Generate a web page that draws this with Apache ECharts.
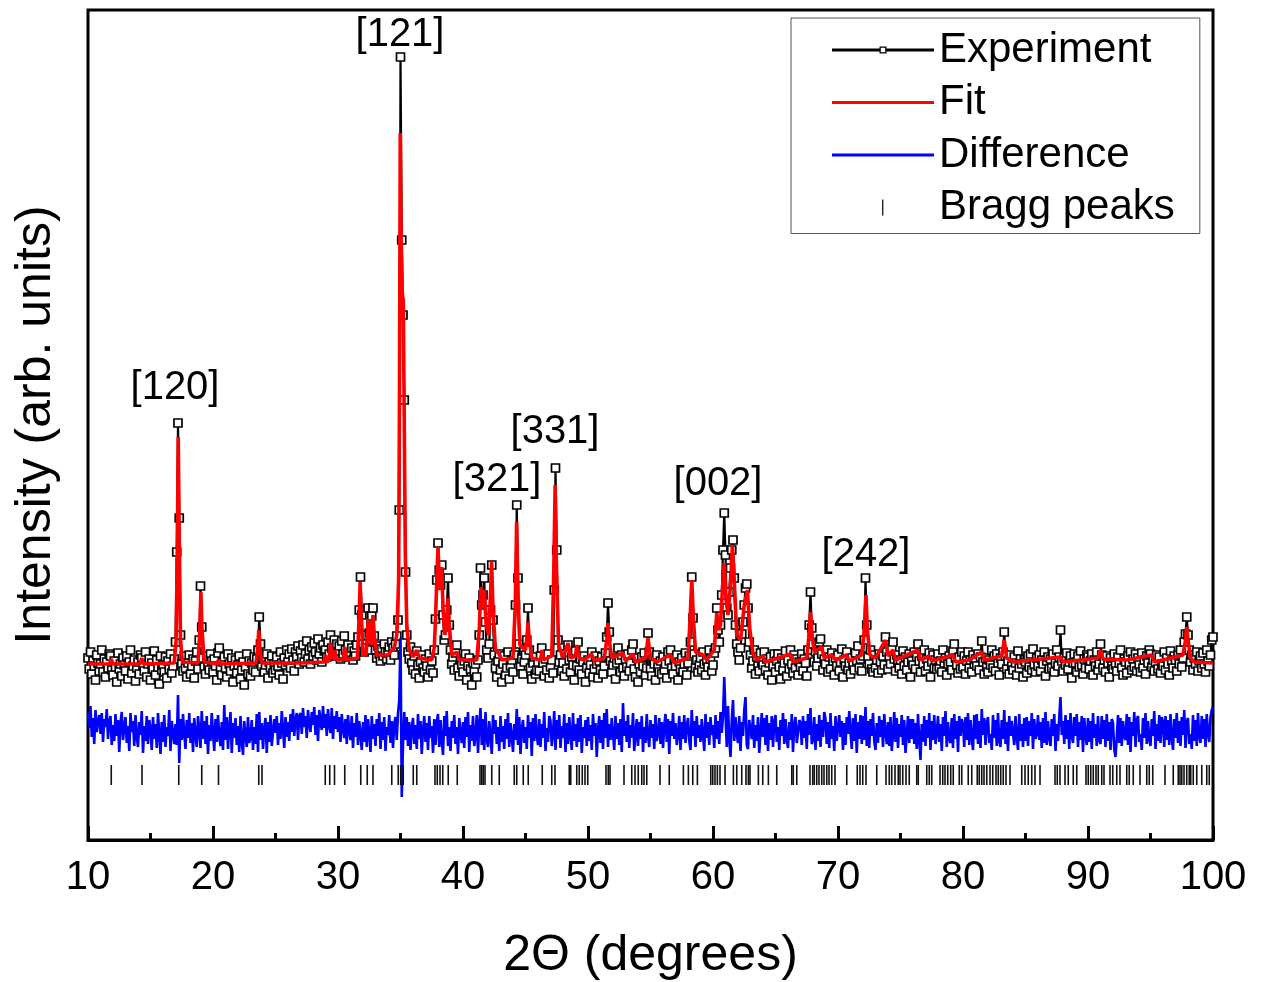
<!DOCTYPE html>
<html><head><meta charset="utf-8">
<script src="https://cdn.jsdelivr.net/npm/echarts/dist/echarts.min.js"></script>
<style>html,body{margin:0;padding:0;background:#fff}#c{width:1264px;height:982px}</style>
</head><body><div id="c"></div>
<script>
// 2-theta grid of the measured pattern
const xStart = 10, xStep = 0.1;

// Experiment intensities (arb. units), one row per degree (x.0 ... x.9)
const experiment = [
182,171,188,166,179,174,160,185,177,169,
176,190,168,181,163,178,172,186,184,170,
165,179,173,158,187,171,176,164,182,175,
169,184,161,178,190,167,174,180,159,172,
178,166,185,182,174,169,188,163,176,181,
160,177,171,189,165,180,173,156,184,170,
175,168,183,162,179,171,186,167,174,181,
198,288,417,322,205,176,169,184,172,163,
177,185,166,174,181,162,179,188,171,200,
254,213,182,173,166,184,175,170,186,179,
168,181,174,160,187,192,171,165,178,183,
172,163,186,176,169,182,158,174,180,167,
175,184,161,170,178,155,173,186,166,179,
164,177,170,183,168,181,190,223,196,174,
181,168,175,186,162,178,172,184,167,176,
170,183,174,165,188,177,161,182,175,190,
178,186,172,191,180,169,188,183,194,176,
189,182,195,178,186,199,181,190,176,193,
184,197,188,180,201,186,192,178,195,189,
190,183,198,186,205,192,187,200,184,196,
188,194,181,199,186,204,190,183,195,187,
185,192,180,189,184,195,203,230,263,225,
196,188,192,205,232,207,190,224,232,204,
190,182,194,186,179,191,184,196,188,181,
187,193,180,198,192,185,196,204,220,330,
783,600,525,440,268,205,188,181,193,177,
170,184,166,189,175,162,178,185,172,168,
181,174,163,186,170,179,167,190,221,260,
297,270,255,275,225,200,205,230,262,215,
190,176,183,170,187,195,172,164,181,175,
168,179,186,160,174,182,171,155,177,169,
176,163,180,205,272,235,245,262,218,190,
182,196,230,275,220,185,172,163,179,186,
170,158,176,184,165,172,188,161,174,180,
168,185,235,335,262,196,174,181,166,178,
185,200,232,190,172,161,177,183,166,170,
178,169,184,192,177,164,181,170,186,162,
173,180,167,250,372,290,200,178,185,169,
177,164,186,171,195,180,168,183,175,160,
189,174,198,170,181,166,178,184,158,172,
180,167,175,188,163,171,184,176,162,179,
170,183,166,174,187,203,237,208,179,168,
175,182,161,177,192,180,168,185,172,164,
180,173,186,169,177,190,196,171,163,182,
158,176,168,183,174,187,165,172,207,188,
171,164,181,176,160,185,173,168,179,166,
183,170,176,162,188,179,190,172,166,181,
174,185,160,178,171,182,168,176,187,165,
177,184,198,263,222,186,172,180,168,175,
182,170,188,176,165,179,173,190,181,169,
175,187,192,232,210,198,215,245,290,327,
285,232,225,248,272,290,300,262,215,196,
188,180,192,206,218,235,252,256,232,198,
185,172,179,190,166,183,174,169,187,178,
175,188,170,181,165,177,183,160,174,186,
168,179,186,173,161,182,170,177,189,164,
180,171,190,176,167,185,172,181,165,178,
173,186,169,181,177,164,190,215,248,212,
196,178,188,174,182,198,201,186,170,181,
176,190,168,183,171,187,179,165,182,174,
185,169,178,191,163,180,174,188,170,177,
166,182,175,170,187,179,194,172,181,169,
184,200,262,215,183,176,190,171,168,185,
172,180,167,186,178,170,184,175,203,188,
171,183,176,192,198,181,169,185,177,172,
180,166,189,174,183,170,178,186,163,179,
175,188,171,183,196,179,168,184,176,190,
169,181,174,187,163,178,185,172,180,171,
186,173,179,168,190,177,182,165,176,184,
178,170,189,196,182,175,167,183,171,188,
173,184,166,179,188,172,180,168,185,176,
181,174,186,170,183,199,178,166,182,173,
168,180,175,190,172,184,169,186,177,165,
182,176,188,208,184,171,179,166,185,174,
170,183,177,165,189,172,181,176,163,180,
178,167,184,173,186,170,191,175,168,182,
174,185,169,180,176,188,164,179,183,171,
181,172,186,168,177,190,174,183,210,179,
169,182,175,187,171,178,184,162,177,186,
177,168,184,173,189,175,166,181,172,185,
183,171,179,186,165,180,174,188,170,176,
196,185,172,180,168,184,177,163,182,174,
171,186,175,169,183,177,190,172,165,181,
178,167,184,176,188,170,181,173,186,169,
182,175,168,187,172,180,166,184,177,190,
186,173,180,169,178,185,171,183,167,176,
174,188,170,182,176,165,189,179,172,184,
180,169,185,176,190,173,182,198,206,223,
205,190,178,185,170,182,176,188,169,179,
184,172,187,176,168,190,179,174,185,200,
203
];

// Difference curve (offset, arb. units), same grid
const difference = [
128,112,134,103,122,96,130,108,119,125,
106,127,98,121,113,131,101,118,124,95,
115,99,126,104,120,88,117,128,100,112,
123,97,114,89,127,108,119,94,125,103,
93,118,105,129,87,114,99,124,96,120,
111,90,123,101,116,92,127,106,86,118,
98,125,93,113,104,130,89,119,107,96,
116,95,145,77,121,100,126,106,91,120,
102,127,97,117,88,122,105,93,124,110,
92,129,101,119,96,124,86,115,99,127,
107,89,121,98,125,104,94,118,90,135,
100,123,91,113,128,87,117,102,122,95,
114,88,124,99,85,119,105,93,123,97,
103,120,90,113,96,126,88,128,100,117,
91,112,122,87,118,98,125,94,108,121,
107,124,95,117,101,129,111,92,123,103,
118,99,126,108,131,104,121,127,100,124,
127,106,132,113,124,102,130,116,108,128,
115,133,105,125,99,130,119,110,134,112,
126,104,131,115,107,132,101,124,111,129,
108,123,98,126,112,102,121,96,125,109,
100,124,92,117,103,127,95,119,106,90,
118,98,125,93,121,107,88,124,101,116,
94,121,104,127,91,118,100,123,89,113,
105,125,97,119,92,116,123,100,127,140,
202,43,95,128,100,123,94,118,90,112,
122,96,115,91,126,101,119,86,110,124,
98,117,90,124,102,114,87,121,95,118,
126,93,120,99,85,124,104,129,94,113,
89,119,102,125,96,113,86,122,107,97,
118,92,123,103,128,88,115,99,124,94,
104,125,87,116,132,95,121,90,128,101,
93,119,103,86,125,106,120,96,113,89,
124,98,114,91,121,101,127,93,117,104,
88,116,100,131,95,123,86,111,120,97,
113,91,125,102,118,84,122,99,126,105,
95,121,93,116,102,128,89,112,98,124,
119,94,106,129,90,120,101,125,92,114,
102,126,88,117,96,123,106,90,127,99,
116,93,122,98,125,87,113,102,120,94,
123,99,115,90,126,104,117,83,110,124,
97,120,91,127,102,131,93,116,100,122,
106,90,124,101,117,95,121,88,137,104,
119,98,125,92,115,102,127,89,106,121,
94,118,101,124,88,113,97,126,104,93,
120,102,116,91,125,99,107,122,96,118,
92,114,126,98,121,86,119,104,127,101,
117,95,106,124,90,118,101,125,97,113,
122,99,90,130,104,119,93,124,102,115,
98,121,106,89,126,102,118,95,123,105,
115,92,125,101,119,96,128,107,124,163,
126,93,134,101,83,120,140,99,123,106,
97,124,89,118,104,130,143,95,91,120,
119,101,125,92,115,99,123,87,108,127,
103,122,95,125,89,117,100,124,93,118,
125,98,113,90,120,104,127,96,121,101,
92,118,100,126,88,115,123,97,107,120,
117,95,124,102,119,91,126,105,132,96,
100,123,90,116,99,125,93,120,103,128,
121,96,118,92,127,101,114,89,124,99,
98,125,103,119,90,117,95,123,106,129,
108,91,122,99,126,87,118,101,125,96,
124,100,133,94,119,92,121,104,127,99,
90,117,97,124,103,120,93,126,108,96,
118,94,123,89,106,128,98,122,92,116,
103,125,95,120,87,105,124,97,121,101,
121,96,117,91,126,101,80,116,98,124,
94,120,102,127,90,119,100,125,96,107,
124,98,116,89,123,104,129,93,118,101,
97,122,92,126,101,119,88,124,104,121,
116,93,123,100,127,95,120,102,90,125,
101,126,96,119,92,131,105,122,95,117,
123,97,106,90,125,102,120,94,127,99,
93,120,101,130,96,118,89,124,104,119,
121,95,124,103,90,126,99,116,93,122,
99,123,94,119,104,127,91,121,101,106,
125,100,118,92,122,97,128,95,119,103,
94,121,104,126,89,116,99,123,143,105,
119,96,125,101,120,91,127,104,97,123,
104,126,93,118,100,124,88,122,106,95,
122,98,119,91,127,102,116,94,124,100,
96,124,101,120,93,126,99,118,90,121,
117,91,83,102,125,97,122,94,119,104,
100,126,95,123,88,118,104,128,93,120,
124,98,106,90,122,102,127,96,119,101,
94,121,104,129,91,116,99,125,97,123,
118,93,124,100,120,95,126,103,90,121,
102,127,97,119,94,123,105,130,92,118,
122,96,106,91,125,99,120,94,127,103,
97,124,101,121,93,126,106,98,123,130,
133
];

// Fitted profile: [2theta, intensity]
const fit = [
[10,176],[11.7,176],[11.86,181],[12.0,176],[14.15,176],[14.3,182],[14.45,176],
[16.9,177],[17.05,200],[17.15,300],[17.22,403],[17.3,300],[17.4,200],[17.55,178],
[18.8,177],[18.95,210],[19.03,248],[19.12,210],[19.3,178],
[20.3,176],[20.44,180],[20.6,176],
[23.45,177],[23.58,192],[23.66,210],[23.75,192],[23.9,177],
[27.0,177],[28.9,178],[29.0,185],[29.1,178],[29.3,180],[29.4,197],[29.5,182],[29.7,184],[29.75,190],[29.85,180],
[30.4,180],[30.54,193],[30.7,180],
[31.55,182],[31.68,220],[31.77,258],[31.87,220],[32.0,185],[32.25,185],[32.36,210],[32.43,221],[32.52,205],
[32.65,195],[32.75,215],[32.8,225],[32.9,205],[33.1,185],
[34.0,185],[34.3,190],[34.5,192],[34.7,205],[34.85,260],[34.92,450],[34.98,707],[35.05,600],[35.15,545],
[35.22,540],[35.3,420],[35.38,290],[35.5,215],[35.7,190],[36.0,183],[36.3,190],[36.5,182],[37.5,180],
[37.7,192],[37.8,220],[37.9,260],[38.0,293],[38.1,262],[38.2,250],[38.3,273],[38.4,232],[38.55,205],[38.7,220],
[38.8,242],[38.9,215],[39.1,185],[39.5,188],[39.7,180],
[41.1,180],[41.3,210],[41.43,253],[41.55,232],[41.7,250],[41.85,215],[42.05,205],[42.2,245],[42.29,278],
[42.4,230],[42.6,190],[42.9,186],[43.1,180],
[44.0,182],[44.18,235],[44.29,318],[44.4,245],[44.55,195],[45.0,190],[45.13,205],[45.2,218],[45.3,200],[45.5,182],
[46.2,180],[46.32,190],[46.45,180],
[47.1,184],[47.25,260],[47.37,355],[47.48,270],[47.65,195],[48.0,182],[48.4,197],[48.6,182],[49.0,184],[49.1,195],
[49.3,182],[49.7,180],[50.3,186],[50.5,179],
[51.3,182],[51.5,200],[51.6,217],[51.7,200],[51.9,182],[52.8,187],[53.0,179],[53.6,186],[53.8,178],[54.6,182],
[54.8,202],[55.0,182],[55.5,178],[56.6,185],[56.9,177],
[58.0,182],[58.18,225],[58.3,260],[58.42,225],[58.6,188],[59.2,185],[59.5,180],[60.1,190],[60.3,227],[60.45,210],
[60.6,215],[60.75,250],[60.9,277],[61.05,240],[61.2,225],[61.4,255],[61.55,295],[61.7,260],[61.9,205],[62.2,200],
[62.5,235],[62.75,250],[62.95,210],[63.2,186],[63.5,180],[64.0,184],[64.2,178],[66.2,186],[66.4,178],
[67.5,182],[67.68,205],[67.8,228],[67.92,205],[68.1,188],[68.7,193],[68.9,182],[69.5,185],[69.8,180],[70.7,185],[70.9,179],
[71.9,185],[72.1,210],[72.24,245],[72.35,210],[72.55,185],[73.0,182],[73.8,200],[74.0,184],[74.4,190],[74.6,180],
[76.4,190],[76.6,180],[77.3,184],[77.5,179],[79.2,185],[79.4,178],[80.5,180],[81.5,188],[81.7,180],[83.1,184],
[83.3,200],[83.5,182],[84.0,178],[85.5,180],[87.8,183],[88.0,178],[90.8,182],[91.0,190],[91.2,181],[93.1,180],
[95.1,185],[95.3,178],[97.6,185],[97.8,200],[97.9,213],[98.0,200],[98.2,182],[98.5,178],[100,177]
];

// Bragg reflection positions (2theta)
const braggPeaks = [
11.86,14.32,17.26,19.10,20.44,23.66,23.92,28.98,29.34,29.72,30.54,31.82,32.34,32.80,34.30,34.82,35.02,35.22,
36.02,36.30,37.76,37.94,38.16,38.38,38.82,39.54,41.36,41.50,41.62,41.76,42.30,42.90,44.10,44.30,44.82,45.22,
46.34,47.10,47.36,48.50,48.62,49.10,49.30,49.54,49.76,49.98,51.44,51.62,51.76,52.88,53.50,53.76,54.02,54.30,
54.48,54.70,55.76,56.50,57.63,58.03,58.38,58.75,59.82,59.98,60.16,60.35,60.56,60.96,61.63,61.90,62.30,62.64,
62.83,62.96,63.63,63.98,64.43,65.10,66.30,66.42,66.70,67.76,67.98,68.10,68.30,68.48,68.70,68.88,69.10,69.28,
69.50,69.76,70.70,71.54,71.76,71.98,72.24,73.10,73.84,74.10,74.30,74.56,74.82,74.96,75.18,75.44,75.70,76.30,
76.42,77.10,77.30,77.50,78.16,78.38,78.56,78.78,79.02,79.22,79.70,79.90,80.42,80.70,81.14,81.30,81.50,81.68,
81.90,82.16,82.38,82.64,82.82,83.02,83.22,83.44,83.76,84.70,84.96,85.22,85.50,85.76,86.16,87.36,87.54,87.76,
88.16,88.42,88.82,89.10,89.84,90.02,90.22,90.42,90.64,90.82,91.10,91.28,91.76,91.98,92.30,92.56,93.10,93.30,
93.62,94.16,94.70,94.90,95.18,96.16,96.82,97.22,97.36,97.50,97.68,97.90,98.10,98.22,98.42,98.70,99.10,99.50,99.70
];
const braggLevel = 65;

// Reflection labels: [text, 2theta, height]
const peakLabels = [
['[120]', 16.96, 452], ['[121]', 34.96, 805], ['[321]', 42.72, 360],
['[331]', 47.36, 408], ['[002]', 60.40, 356], ['[242]', 72.24, 285]
];

const xMin = 10, xMax = 100, xInterval = 10;
const yMin = 0, yMax = 830;

const FONT = '"Liberation Sans", Arial, sans-serif';
const gridX = i => Math.round((xStart + i * xStep) * 100) / 100;
const expData = experiment.map((v, i) => [gridX(i), v]);
const diffData = difference.map((v, i) => [gridX(i), v]);

// legend icons (102 x 18 boxes; the tiny corner specks only fix the box size)
const boxA = 'M0,0h0.01v0.01h-0.01z ', boxB = ' M101.99,17.99h0.01v0.01h-0.01z';
const expIcon = 'path://' + boxA + 'M0,7.6h47.5v2.8h-47.5z M47.5,5.5h7v7h-7z M48.8,6.8v4.4h4.4v-4.4z M54.5,7.6h47.5v2.8h-47.5z' + boxB;
const lineIcon = 'path://' + boxA + 'M0,7.4h102v3.2h-102z' + boxB;
const braggIcon = 'path://' + boxA + 'M50,1h1.4v16h-1.4z' + boxB;

const chart = echarts.init(document.getElementById('c'), null, {renderer: 'canvas'});
chart.setOption({
  animation: false,
  backgroundColor: '#fff',
  textStyle: {fontFamily: FONT},
  grid: {left: 88, right: 51, top: 10, bottom: 142, show: true, borderColor: '#000', borderWidth: 3,
         outerBoundsMode: 'none', containLabel: false},
  legend: {
    left: 791, top: 18, orient: 'vertical', itemWidth: 102, itemHeight: 18, itemGap: 10.5,
    padding: [11, 25, 5, 41], borderColor: '#555', borderWidth: 1, backgroundColor: '#fff',
    textStyle: {fontSize: 42, color: '#000', fontFamily: FONT},
    selectedMode: false,
    data: [
      {name: 'Experiment', icon: expIcon, itemStyle: {color: '#000', borderWidth: 0, opacity: 1}},
      {name: 'Fit', icon: lineIcon, itemStyle: {color: '#ff0000', borderWidth: 0, opacity: 1}},
      {name: 'Difference', icon: lineIcon, itemStyle: {color: '#0000ff', borderWidth: 0, opacity: 1}},
      {name: 'Bragg peaks', icon: braggIcon, itemStyle: {color: '#222', borderWidth: 0, opacity: 1}}
    ]
  },
  xAxis: {
    type: 'value', min: xMin, max: xMax, interval: xInterval,
    name: '2\u0398 (degrees)', nameLocation: 'middle', nameGap: 91,
    nameTextStyle: {fontSize: 50, color: '#000', fontFamily: FONT},
    axisLine: {show: true, lineStyle: {color: '#000', width: 3}},
    axisTick: {show: true, inside: true, length: 14, lineStyle: {color: '#000', width: 3}},
    minorTick: {show: true, splitNumber: 2, length: 7, lineStyle: {color: '#000', width: 3}},
    axisLabel: {fontSize: 40, color: '#000', margin: 18, fontFamily: FONT},
    splitLine: {show: false}, minorSplitLine: {show: false}
  },
  yAxis: {
    type: 'value', min: yMin, max: yMax,
    name: 'Intensity (arb. units)', nameLocation: 'middle', nameGap: 27,
    nameTextStyle: {fontSize: 50, color: '#000', fontFamily: FONT},
    axisLine: {show: false}, axisTick: {show: false}, axisLabel: {show: false},
    splitLine: {show: false}
  },
  series: [
    {
      name: 'Experiment', type: 'line', data: expData, showAllSymbol: true,
      symbol: 'rect', symbolSize: 8,
      itemStyle: {color: '#fff', borderColor: '#000', borderWidth: 1.7, opacity: 1},
      lineStyle: {color: '#000', width: 2.2}, z: 2
    },
    {
      name: 'Fit', type: 'line', data: fit, symbol: 'none', showSymbol: false,
      lineStyle: {color: '#ff0000', width: 3.6}, itemStyle: {color: '#ff0000'}, z: 3
    },
    {
      name: 'Difference', type: 'line', data: diffData, symbol: 'none', showSymbol: false,
      lineStyle: {color: '#0000ff', width: 2.6}, itemStyle: {color: '#0000ff'}, z: 3
    },
    {
      name: 'Bragg peaks', type: 'scatter', data: braggPeaks.map(x => [x, braggLevel]),
      symbol: 'rect', symbolSize: [1.6, 20], itemStyle: {color: '#111', opacity: 1}, z: 4, silent: true
    },
    {
      name: 'labels', type: 'scatter', silent: true, z: 5,
      data: peakLabels.map(p => ({name: p[0], value: [p[1], p[2]]})),
      symbolSize: 1, itemStyle: {color: '#fff', opacity: 0},
      label: {show: true, position: 'inside', formatter: p => p.name, fontSize: 40, color: '#000', opacity: 1, fontFamily: FONT}
    }
  ]
});
</script>
</body></html>
